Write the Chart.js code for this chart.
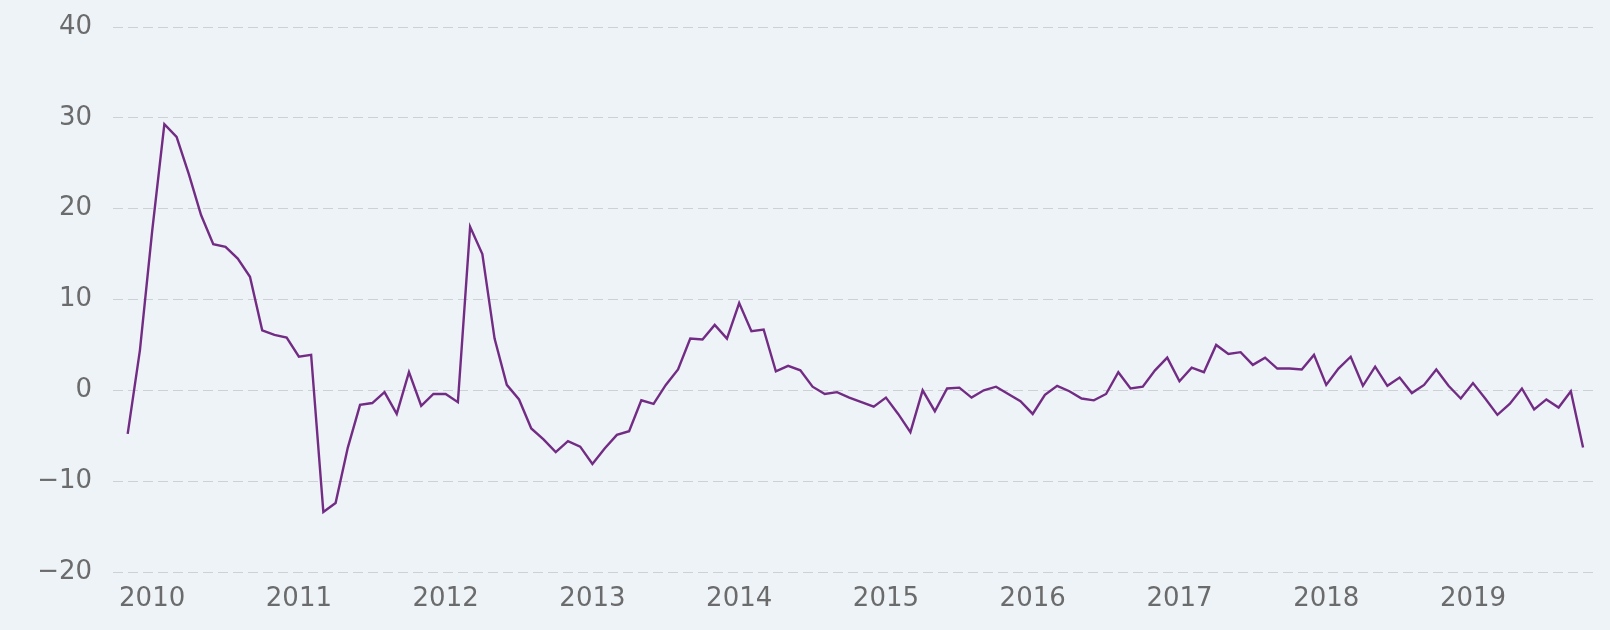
<!DOCTYPE html>
<html>
<head>
<meta charset="utf-8">
<script src="https://cdn.jsdelivr.net/npm/chart.js@4"></script>
<style>
    html, body { margin: 0; padding: 0; background: #eef3f8; }
    #wrap { width: 1610px; height: 630px; }
</style>
</head>
<body>
<div id="wrap"><canvas id="lineChart" width="1610" height="630"></canvas></div>
<script>
// monthly series, Nov 2009 .. Oct 2019
var firstYear = 2009;
var firstMonth = 11;
var yearTicks = [2010, 2011, 2012, 2013, 2014, 2015, 2016, 2017, 2018, 2019];
var yTicks = [-20, -10, 0, 10, 20, 30, 40];

var v2009 = [-4.8, 4.4];
var v2010 = [17.5, 29.3, 27.9, 23.8, 19.3, 16.1, 15.8, 14.5, 12.5, 6.6, 6.1, 5.8];
var v2011 = [3.7, 3.9, -13.4, -12.4, -6.3, -1.6, -1.4, -0.2, -2.6, 2.0, -1.7, -0.4];
var v2012 = [-0.4, -1.3, 18.0, 15.0, 5.7, 0.6, -1.0, -4.2, -5.4, -6.8, -5.6, -6.2];
var v2013 = [-8.1, -6.4, -4.9, -4.5, -1.1, -1.5, 0.6, 2.3, 5.7, 5.6, 7.2, 5.7];
var v2014 = [9.6, 6.5, 6.7, 2.1, 2.7, 2.2, 0.4, -0.4, -0.2, -0.8, -1.3, -1.8];
var v2015 = [-0.8, -2.6, -4.6, 0.0, -2.3, 0.2, 0.3, -0.8, 0.0, 0.4, -0.4, -1.2];
var v2016 = [-2.6, -0.5, 0.5, -0.1, -0.9, -1.1, -0.4, 2.0, 0.2, 0.4, 2.2, 3.6];
var v2017 = [1.0, 2.5, 2.0, 5.0, 4.0, 4.2, 2.8, 3.6, 2.4, 2.4, 2.3, 3.9];
var v2018 = [0.6, 2.4, 3.7, 0.5, 2.6, 0.5, 1.4, -0.3, 0.6, 2.3, 0.5, -0.9];
var v2019 = [0.8, -0.9, -2.7, -1.5, 0.2, -2.1, -1.0, -1.9, -0.1, -6.3];

document.addEventListener("DOMContentLoaded", function () {
    var values = [].concat(v2009, v2010, v2011, v2012, v2013, v2014, v2015, v2016, v2017, v2018, v2019);

    // x = months since first point
    var points = values.map(function (v, i) { return { x: i, y: v }; });
    var janIndex = function (yr) { return (yr - firstYear) * 12 + 1 - firstMonth; };

    var tickFont = { family: "'DejaVu Sans', sans-serif", size: 26 };
    var tickColor = "#6b6b6b";

    var ctx = document.getElementById("lineChart").getContext("2d");
    new Chart(ctx, {
        type: "line",
        data: {
            datasets: [{
                data: points,
                borderColor: "#722c84",
                borderWidth: 2.4,
                pointRadius: 0,
                tension: 0,
                fill: false,
            }],
        },
        options: {
            responsive: false,
            animation: false,
            layout: { padding: { top: 27, right: 13, left: 0, bottom: 0 } },
            plugins: { legend: { display: false }, tooltip: { enabled: false } },
            scales: {
                x: {
                    type: "linear",
                    min: -1.2,
                    max: 120.14,
                    grid: { display: false, drawTicks: false },
                    border: { display: false },
                    afterBuildTicks: function (scale) {
                        scale.ticks = yearTicks.map(function (y) { return { value: janIndex(y) }; });
                    },
                    afterFit: function (scale) { scale.height = 58; },
                    ticks: {
                        color: tickColor,
                        font: tickFont,
                        padding: 12,
                        maxRotation: 0,
                        autoSkip: false,
                        callback: function (v) {
                            return String(firstYear + Math.round((v + firstMonth - 1) / 12));
                        },
                    },
                },
                y: {
                    min: yTicks[0],
                    max: yTicks[yTicks.length - 1],
                    afterBuildTicks: function (scale) {
                        scale.ticks = yTicks.map(function (t) { return { value: t }; });
                    },
                    afterFit: function (scale) {
                        scale.width = 113;
                        scale.paddingTop = 10;
                        scale.paddingBottom = 10;
                    },
                    grid: { color: "#cdd0d5", lineWidth: 1, drawTicks: false },
                    border: { display: false, dash: [10, 5] },
                    ticks: {
                        color: tickColor,
                        font: tickFont,
                        padding: 21,
                        callback: function (v) {
                            return v < 0 ? "\u2212" + Math.abs(v) : String(v);
                        },
                    },
                },
            },
        },
    });
});
</script>
</body>
</html>
